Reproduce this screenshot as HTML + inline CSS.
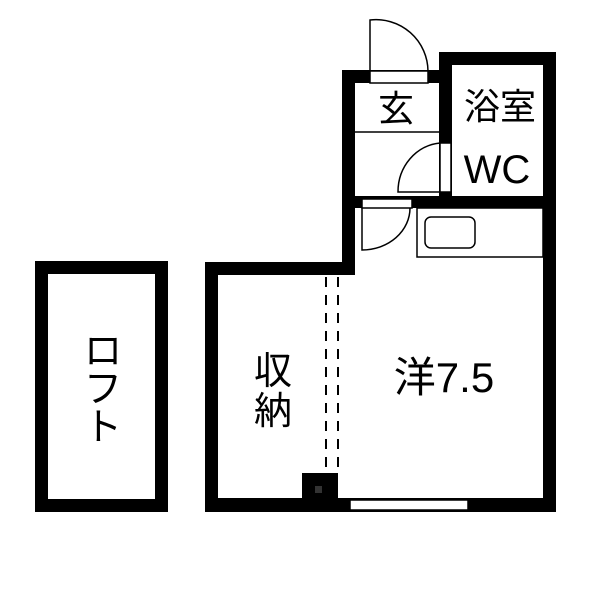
<!DOCTYPE html>
<html><head><meta charset="utf-8"><style>
body{margin:0;background:#fff}
svg{display:block}
text{font-family:"Liberation Sans","Noto Sans CJK JP",sans-serif;fill:#000}
</style></head><body>
<svg width="600" height="600" viewBox="0 0 600 600">
<rect width="600" height="600" fill="#fff"/>
<!-- Loft -->
<rect x="41.5" y="267.5" width="120" height="238" fill="none" stroke="#000" stroke-width="13"/>
<text x="103" y="364" font-size="38" text-anchor="middle">ロ</text>
<text x="103" y="402" font-size="38" text-anchor="middle">フ</text>
<text x="103" y="440" font-size="38" text-anchor="middle">ト</text>
<!-- Main walls -->
<g fill="#000">
<rect x="205" y="262" width="13" height="250"/>
<rect x="205" y="262" width="150" height="13"/>
<rect x="342" y="70" width="13" height="205"/>
<rect x="342" y="70" width="100" height="13"/>
<rect x="439" y="52" width="117" height="13"/>
<rect x="439" y="52" width="13" height="156"/>
<rect x="543" y="52" width="13" height="460"/>
<rect x="342" y="196" width="214" height="12"/>
<rect x="205" y="498" width="351" height="14"/>
<rect x="302" y="473" width="36" height="25"/>
</g>
<rect x="315" y="486" width="7" height="7" fill="#333"/>
<!-- entrance door -->
<rect x="370" y="71" width="58" height="12" fill="#fff" stroke="#000" stroke-width="1.5"/>
<path d="M370 71 V20 A52 52 0 0 1 428 71" fill="none" stroke="#000" stroke-width="1.5"/>
<line x1="355" y1="132" x2="439" y2="132" stroke="#000" stroke-width="1.5"/>
<!-- bath door -->
<rect x="440" y="143" width="11" height="49" fill="#fff" stroke="#000" stroke-width="1.5"/>
<path d="M440 143 A46 49 0 0 0 398 192 H440" fill="none" stroke="#000" stroke-width="1.5"/>
<!-- room door -->
<rect x="362" y="199" width="50" height="9" fill="#fff" stroke="#000" stroke-width="1.5"/>
<path d="M362 208 V250 A48 42 0 0 0 410 208" fill="none" stroke="#000" stroke-width="1.5"/>
<!-- kitchen -->
<rect x="417" y="208" width="126" height="49" fill="#fff" stroke="#000" stroke-width="1.5"/>
<rect x="425" y="217" width="50" height="31" rx="6" fill="none" stroke="#000" stroke-width="1.5"/>
<!-- window -->
<rect x="350" y="500" width="118" height="10" fill="#fff" stroke="#000" stroke-width="1.5"/>
<!-- dashed -->
<g stroke="#000" stroke-width="2" stroke-dasharray="10 8">
<line x1="326" y1="277" x2="326" y2="473"/>
<line x1="338" y1="277" x2="338" y2="473"/>
</g>
<!-- labels -->
<text x="396" y="121" font-size="36" text-anchor="middle">玄</text>
<text x="500" y="119" font-size="36" text-anchor="middle">浴室</text>
<text x="497" y="183" font-size="40" text-anchor="middle">WC</text>
<text x="273" y="384" font-size="38" text-anchor="middle">収</text>
<text x="273" y="424" font-size="38" text-anchor="middle">納</text>
<text x="444" y="392" font-size="42" text-anchor="middle">洋7.5</text>
</svg>
</body></html>
